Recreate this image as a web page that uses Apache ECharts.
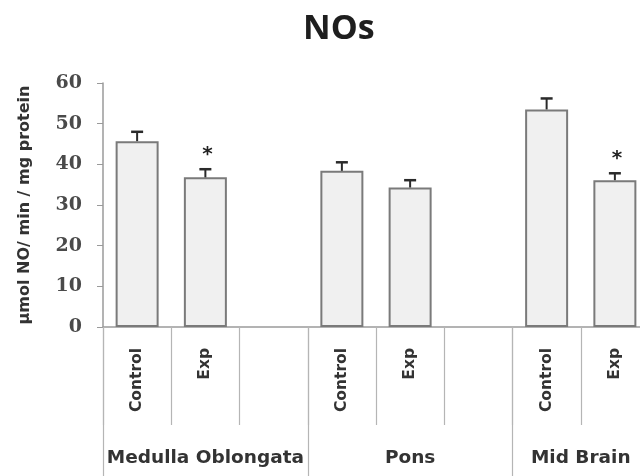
<!DOCTYPE html>
<html>
<head>
<meta charset="utf-8">
<script src="https://cdn.jsdelivr.net/npm/echarts@6/dist/echarts.min.js"></script>
<style>html,body{margin:0;padding:0;background:#fff}#c{width:640px;height:476px}</style>
</head>
<body>
<div id="c"></div>
<script>
const categories = ['Control', 'Exp', '', 'Control', 'Exp', '', 'Control', 'Exp'];
const means = [45.7, 36.8, null, 38.4, 34.3, null, 53.5, 36.1];
const errors = [2.3, 2.0, null, 2.1, 1.8, null, 2.7, 1.7];
const marks = ['', '*', '', '', '', '', '', '*'];
const groups = ['Medulla Oblongata', 'Pons', 'Mid Brain'];
const groupSpans = [3, 3, 2];
const yTicks = [0, 10, 20, 30, 40, 50, 60];

const groupStarts = [];
const groupCenters = [];
let acc = 0;
groupSpans.forEach(s => { groupStarts.push(acc); groupCenters.push(acc + s / 2); acc += s; });

const chart = echarts.init(document.getElementById('c'));
const labelColor = '#333';
const lineColor = '#9a9a9a';
const labelFont = 'DejaVu Sans';

chart.setOption({
  animation: false,
  title: {
    text: 'NOs', left: 298, top: 7,
    textStyle: { fontFamily: 'Open Sans', fontWeight: 'bold', fontSize: 34, color: '#1e1e1e' }
  },
  grid: { left: 103, top: 83, width: 546, height: 244, outerBoundsMode: 'none', containLabel: false },
  xAxis: [
    {
      type: 'category', data: categories, position: 'bottom',
      axisLine: { lineStyle: { color: lineColor, width: 1.5 } },
      axisTick: { show: true, length: 98, interval: 0, alignWithLabel: false, lineStyle: { color: '#b5b5b5', width: 1.2 } },
      axisLabel: { interval: 0, rotate: 90, margin: 21, color: labelColor,
        fontFamily: labelFont, fontWeight: 'bold', fontSize: 15.5 }
    },
    {
      type: 'value', min: 0, max: acc, position: 'bottom',
      axisLine: { show: false }, splitLine: { show: false },
      axisTick: { show: true, length: 150, customValues: groupStarts.concat([acc]), lineStyle: { color: '#b5b5b5', width: 1.2 } },
      axisLabel: { customValues: groupCenters, margin: 122, color: labelColor,
        fontFamily: labelFont, fontWeight: 'bold', fontSize: 18.5,
        formatter: v => { const i = groupCenters.indexOf(v); return i >= 0 ? groups[i] : ''; } }
    }
  ],
  yAxis: {
    type: 'value', min: 0, max: 60, interval: 10,
    name: 'µmol NO/ min / mg protein', nameLocation: 'middle', nameGap: 70,
    nameTextStyle: { fontFamily: labelFont, fontWeight: 'bold', fontSize: 16, color: labelColor },
    axisLine: { show: true, lineStyle: { color: lineColor, width: 1.5 } },
    axisTick: { show: true, length: 6, lineStyle: { color: lineColor } },
    splitLine: { show: false },
    axisLabel: { margin: 21, color: '#4a4a4a', fontFamily: 'DejaVu Serif', fontWeight: 'bold', fontSize: 19,
      formatter: v => yTicks.includes(v) ? String(v) : '' }
  },
  series: [
    {
      type: 'bar', data: means, xAxisIndex: 0, barWidth: '63%',
      itemStyle: { color: '#f0f0f0', borderColor: '#7a7a7a', borderWidth: 2 }
    },
    {
      type: 'custom', xAxisIndex: 0, z: 5,
      data: means.map((m, i) => [i, m, errors[i], marks[i]]).filter(d => d[1] != null),
      renderItem: function (params, api) {
        const x = api.coord([api.value(0), 0])[0];
        const top = api.coord([api.value(0), api.value(1)])[1];
        const capY = api.coord([api.value(0), api.value(1) + api.value(2)])[1];
        const children = [
          { type: 'line', shape: { x1: x, y1: top, x2: x, y2: capY }, style: { stroke: '#2a2a2a', lineWidth: 2 } },
          { type: 'line', shape: { x1: x - 6, y1: capY, x2: x + 6, y2: capY }, style: { stroke: '#2a2a2a', lineWidth: 2.5 } }
        ];
        const mk = api.value(3);
        if (mk) {
          children.push({ type: 'text', x: x + 2, y: capY - 4,
            style: { text: mk, fontSize: 20, fontWeight: 'bold', fontFamily: 'DejaVu Sans', fill: '#222', align: 'center', verticalAlign: 'bottom' } });
        }
        return { type: 'group', children: children };
      }
    }
  ]
});
</script>
</body>
</html>
